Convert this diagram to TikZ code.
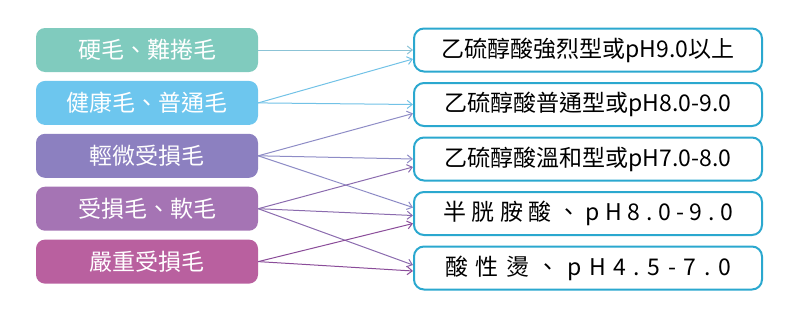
\documentclass[tikz,border=0pt]{standalone}
\usepackage{fontspec}
\usepackage{xcolor}
\usepackage{tikz}
\usetikzlibrary{positioning,arrows.meta}
\newfontfamily\cjk{Noto Sans CJK TC}
\definecolor{hardhair}{HTML}{80CBBE}
\definecolor{normalhair}{HTML}{6DC6EE}
\definecolor{lightdmg}{HTML}{8C80C0}
\definecolor{damaged}{HTML}{A574B4}
\definecolor{heavydmg}{HTML}{B9609F}
\definecolor{boxblue}{HTML}{2BA8CF}
\definecolor{arrA}{HTML}{8BC3D6}
\definecolor{arrB}{HTML}{72C2E6}
\definecolor{arrC}{HTML}{8E8CC6}
\definecolor{arrD}{HTML}{8B6BAE}
\definecolor{arrE}{HTML}{8A4C99}

\begin{document}
\begin{tikzpicture}
    \tikzstyle{hairbox} = [rectangle, rounded corners=9pt, minimum width=222pt, minimum height=44pt, inner sep=0pt, text=white, font=\cjk\fontsize{23}{26}\selectfont]
    \tikzstyle{permbox} = [draw=boxblue, line width=2pt, rectangle, rounded corners=10pt, fill=white, minimum width=348pt, minimum height=43pt, inner sep=0pt, font=\cjk\fontsize{23}{26}\selectfont]
    \tikzstyle{link} = [-{Straight Barb[length=5pt,width=8pt]}, line width=1pt]

    \useasboundingbox (0,0) rectangle (803pt,-316pt);

    % hair types
    \node [hairbox, fill=hardhair] (h1) at (147pt,-50pt) {硬毛、難捲毛};
    \node [hairbox, fill=normalhair, below=8.5pt of h1] (h2) {健康毛、普通毛};
    \node [hairbox, fill=lightdmg, below=8.5pt of h2] (h3) {輕微受損毛};
    \node [hairbox, fill=damaged, below=8.5pt of h3] (h4) {受損毛、軟毛};
    \node [hairbox, fill=heavydmg, below=8.5pt of h4] (h5) {嚴重受損毛};

    % perm lotions
    \node [permbox] (p1) at (588pt,-50pt) {乙硫醇酸強烈型或pH9.0以上};
    \node [permbox, below=9.5pt of p1] (p2) {乙硫醇酸普通型或pH8.0-9.0};
    \node [permbox, below=9.5pt of p2] (p3) {乙硫醇酸溫和型或pH7.0-8.0};
    \node [permbox, below=9.5pt of p3] (p4) {\addfontfeature{LetterSpace=24}半胱胺酸、pH8.0-9.0};
    \node [permbox, below=9.5pt of p4] (p5) {\addfontfeature{LetterSpace=33}酸性燙、pH4.5-7.0};

    \draw [link, arrA] (h1.east) -- (p1.west);
    \draw [link, arrB] (h2.east) -- ([yshift=-9pt]p1.west);
    \draw [link, arrB] (h2.east) -- (p2.west);
    \draw [link, arrC] (h3.east) -- ([yshift=-9pt]p2.west);
    \draw [link, arrC] (h3.east) -- (p3.west);
    \draw [link, arrC] (h3.east) -- ([yshift=6pt]p4.west);
    \draw [link, arrD] (h4.east) -- ([yshift=-8pt]p3.west);
    \draw [link, arrD] (h4.east) -- ([yshift=-2pt]p4.west);
    \draw [link, arrD] (h4.east) -- ([yshift=3pt]p5.west);
    \draw [link, arrE] (h5.east) -- ([yshift=-10pt]p4.west);
    \draw [link, arrE] (h5.east) -- ([yshift=-3pt]p5.west);
\end{tikzpicture}
\end{document}
